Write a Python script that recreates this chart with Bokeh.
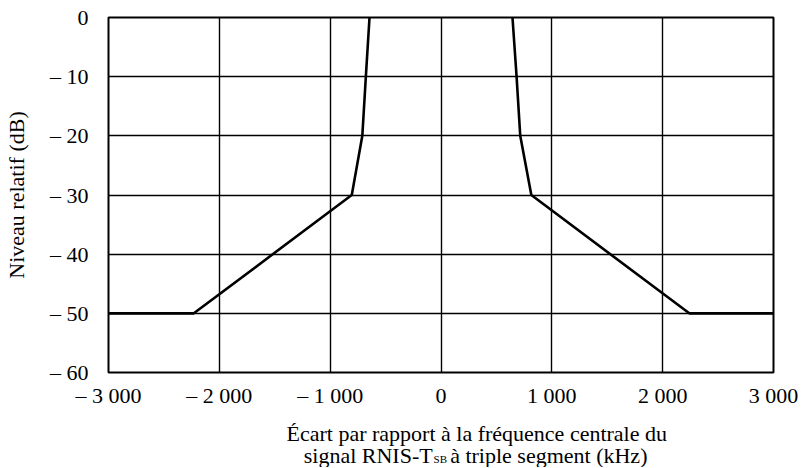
from bokeh.plotting import figure
from bokeh.models import Range1d, FixedTicker
from bokeh.layouts import column
from bokeh.core.properties import value
from bokeh.embed import file_html
from bokeh.resources import INLINE

# Data
left_freq = [-3000, -2230, -805, -710, -678, -645]
left_level = [-50, -50, -30, -20, -10, 0]
right_freq = [645, 682, 715, 815, 2240, 3000]
right_level = [0, -10, -20, -30, -50, -50]

x_ticks = [-3000, -2000, -1000, 0, 1000, 2000, 3000]
x_tick_labels = ["– 3 000", "– 2 000", "– 1 000", "0", "1 000", "2 000", "3 000"]
y_ticks = [0, -10, -20, -30, -40, -50, -60]
y_tick_labels = ["0", "– 10", "– 20", "– 30", "– 40", "– 50", "– 60"]

x_title_line1 = "Écart par rapport à la fréquence centrale du"
x_title_line2_a = "signal RNIS-T"
x_title_line2_sub = "SB"
x_title_line2_b = "à triple segment (kHz)"
y_title = "Niveau relatif (dB)"

FONT = "Liberation Serif"
FS = "22px"

W = 800
H1 = 410
p = figure(width=W, height=H1, output_backend="svg", toolbar_location=None,
           x_range=Range1d(-3000, 3000), y_range=Range1d(-60, 0),
           min_border_left=107, min_border_right=27, min_border_top=17, min_border_bottom=23)

p.outline_line_color = "black"
p.outline_line_width = 2
p.outline_line_alpha = 1.0

for ax in (p.xaxis, p.yaxis):
    ax.axis_line_color = None
    ax.major_tick_line_color = None
    ax.minor_tick_line_color = None
    ax.major_label_text_font = FONT
    ax.major_label_text_font_size = FS
    ax.major_label_text_color = "black"

p.xaxis.ticker = FixedTicker(ticks=x_ticks)
p.yaxis.ticker = FixedTicker(ticks=y_ticks)
p.xaxis.major_label_overrides = dict(zip(x_ticks, x_tick_labels))
p.yaxis.major_label_overrides = dict(zip(y_ticks, y_tick_labels))
p.xaxis.major_label_standoff = 4
p.yaxis.major_label_standoff = 14

p.yaxis.axis_label = y_title
p.yaxis.axis_label_text_font = FONT
p.yaxis.axis_label_text_font_style = "normal"
p.yaxis.axis_label_text_font_size = FS
p.yaxis.axis_label_text_color = "black"
p.yaxis.axis_label_standoff = 18

p.grid.grid_line_color = "black"
p.grid.grid_line_width = 1.4
p.grid.grid_line_alpha = 1.0

p.line(left_freq, left_level, line_color="black", line_width=2.6)
p.line(right_freq, right_level, line_color="black", line_width=2.6)

# x-axis title as a separate text strip (allows the subscript)
H2 = 57
t = figure(width=W, height=H2, output_backend="svg", toolbar_location=None,
           x_range=Range1d(0, W), y_range=Range1d(0, H2),
           min_border=0, min_border_left=0, min_border_right=0,
           min_border_top=0, min_border_bottom=0)
t.axis.visible = False
t.grid.visible = False
t.outline_line_color = None

t.text(x=[443], y=[H2 - 23], text=[x_title_line1], text_align="center",
       text_baseline="alphabetic", text_font=value(FONT), text_font_size=FS,
       text_color="black")
t.text(x=[390], y=[H2 - 45], text=[x_title_line2_a], text_align="right",
       text_baseline="alphabetic", text_font=value(FONT), text_font_size=FS,
       text_color="black")
t.text(x=[391], y=[H2 - 48], text=[x_title_line2_sub], text_align="left",
       text_baseline="alphabetic", text_font=value(FONT), text_font_size="11px",
       text_color="black")
t.text(x=[411], y=[H2 - 45], text=[x_title_line2_b], text_align="left",
       text_baseline="alphabetic", text_font=value(FONT), text_font_size=FS,
       text_color="black")

layout = column(p, t, spacing=0)
open("out.html", "w").write(file_html(layout, INLINE))
